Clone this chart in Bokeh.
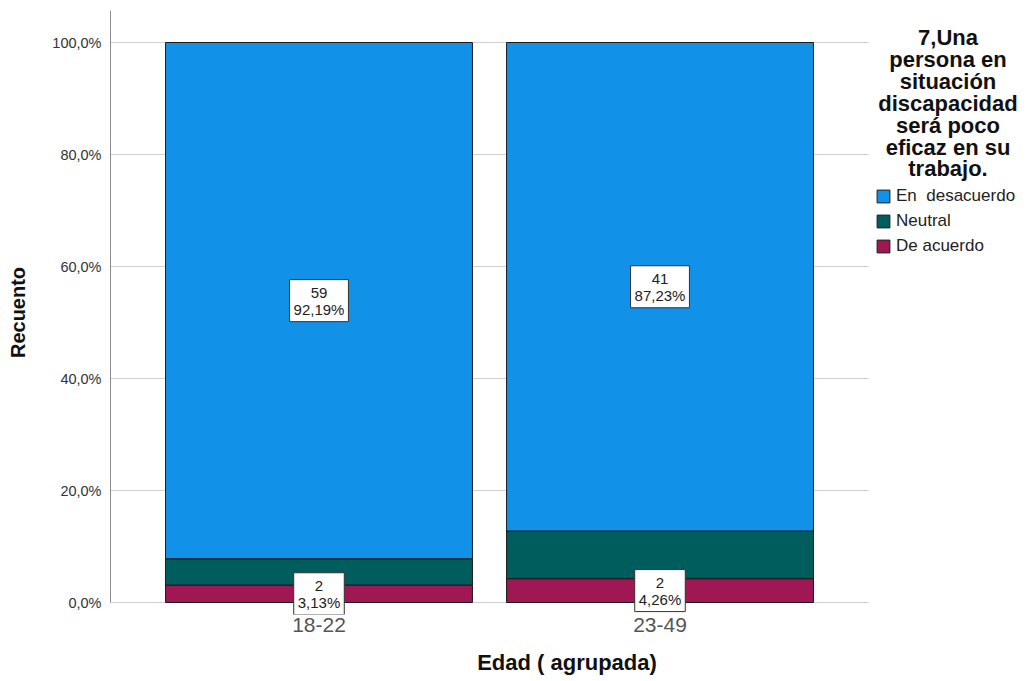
from decimal import Decimal, ROUND_HALF_UP

from bokeh.plotting import figure
from bokeh.models import Range1d, FixedTicker, Legend, LegendItem, Label, ColumnDataSource
from bokeh.core.properties import value
from bokeh.embed import file_html
from bokeh.resources import INLINE

# ---------------- data ----------------
groups = ["18-22", "23-49"]
en_desacuerdo = [59, 41]
neutral = [3, 4]
de_acuerdo = [2, 2]

series_names = ["En  desacuerdo", "Neutral", "De acuerdo"]
series_colors = ["#1192e8", "#005d5d", "#9f1853"]

y_ticks = [0, 20, 40, 60, 80, 100]
y_tick_labels = ["0,0%", "20,0%", "40,0%", "60,0%", "80,0%", "100,0%"]

legend_title_lines = ["7,Una", "persona en", "situación", "discapacidad",
                      "será poco", "eficaz en su", "trabajo."]

x_title = "Edad ( agrupada)"
y_title = "Recuento"

FONT = "Liberation Sans"

# ---------------- layout helpers (pixel <-> data) ----------------
W, H = 1024, 680
FRAME_LEFT_PX, FRAME_TOP_PX, FRAME_BOTTOM_PX = 109, 10, 614
PX_PER_X = 341.0          # pixels per category step
X1_PX = 318.5             # pixel centre of first category
PX_PER_Y = 5.6            # pixels per percent
ZERO_PX = 602.0           # pixel of 0 %


def xd(px):
    return 1 + (px - X1_PX) / PX_PER_X


def yd(py):
    return (ZERO_PX - py) / PX_PER_Y


# ---------------- derived ----------------
xpos = [i + 1 for i in range(len(groups))]
totals = [a + b + c for a, b, c in zip(en_desacuerdo, neutral, de_acuerdo)]


def pct(n, t):
    return 100.0 * n / t


def pct_str(n, t):
    d = (Decimal(n) * Decimal(100) / Decimal(t)).quantize(Decimal("0.01"), rounding=ROUND_HALF_UP)
    return str(d).replace(".", ",") + "%"


stack_bottom_up = [de_acuerdo, neutral, en_desacuerdo]
colors_bottom_up = [series_colors[2], series_colors[1], series_colors[0]]
names_bottom_up = [series_names[2], series_names[1], series_names[0]]

p = figure(width=W, height=H,
           x_range=Range1d(xd(FRAME_LEFT_PX), xd(W)),
           y_range=Range1d(yd(FRAME_BOTTOM_PX), yd(FRAME_TOP_PX)),
           output_backend="svg", toolbar_location=None,
           min_border_left=FRAME_LEFT_PX, min_border_right=0,
           min_border_top=FRAME_TOP_PX, min_border_bottom=H - FRAME_BOTTOM_PX)
p.background_fill_color = "white"
p.border_fill_color = "white"
p.outline_line_color = None

# grid lines and y-axis line, limited to the bar area
grid_x0, grid_x1 = xd(110), xd(868)
p.segment(x0=[grid_x0] * len(y_ticks), x1=[grid_x1] * len(y_ticks),
          y0=y_ticks, y1=y_ticks, line_color="#cfcfcf", line_width=1)
p.segment(x0=[grid_x0], x1=[grid_x0], y0=[0], y1=[yd(FRAME_TOP_PX)],
          line_color="#8c8c8c", line_width=1)

renderers = {}
cum = [0.0] * len(groups)
label_x, label_y, label_text = [], [], []
for vals, col, name in zip(stack_bottom_up, colors_bottom_up, names_bottom_up):
    bottoms = list(cum)
    tops = [b + pct(v, t) for b, v, t in zip(bottoms, vals, totals)]
    src = ColumnDataSource(dict(x=xpos, bottom=bottoms, top=tops))
    r = p.vbar(x="x", width=0.9, bottom="bottom", top="top", source=src,
               fill_color=col, line_color="#1a1a1a", line_width=1)
    renderers[name] = r
    if name != "Neutral":
        for xi, b, tp, v, t in zip(xpos, bottoms, tops, vals, totals):
            label_x.append(xi)
            label_y.append((b + tp) / 2)
            label_text.append(f"{v}\n{pct_str(v, t)}")
    cum = tops

lab_src = ColumnDataSource(dict(x=label_x, y=label_y, text=label_text))
p.text(x="x", y="y", text="text", source=lab_src,
       text_align="center", text_baseline="middle",
       text_font=value(FONT), text_font_size="15px", text_color="#222222",
       text_line_height=1.0,
       background_fill_color="white", border_line_color="#333333",
       border_line_width=1, padding=4)

# axes
p.yaxis.ticker = FixedTicker(ticks=y_ticks)
p.yaxis.major_label_overrides = dict(zip(y_ticks, y_tick_labels))
p.yaxis.axis_line_color = None
p.yaxis.major_tick_line_color = None
p.yaxis.minor_tick_line_color = None
p.yaxis.major_tick_out = 0
p.yaxis.major_tick_in = 0
p.yaxis.major_label_text_font = FONT
p.yaxis.major_label_text_font_size = "14.5px"
p.yaxis.major_label_text_color = "#333333"
p.yaxis.major_label_standoff = 8
p.yaxis.axis_label = y_title
p.yaxis.axis_label_text_font = FONT
p.yaxis.axis_label_text_font_size = "20px"
p.yaxis.axis_label_text_font_style = "bold"
p.yaxis.axis_label_text_color = "#111111"
p.yaxis.axis_label_standoff = 20

p.xaxis.ticker = FixedTicker(ticks=xpos)
p.xaxis.major_label_overrides = dict(zip(xpos, groups))
p.xaxis.axis_line_color = None
p.xaxis.major_tick_line_color = None
p.xaxis.minor_tick_line_color = None
p.xaxis.major_tick_out = 0
p.xaxis.major_tick_in = 0
p.xaxis.major_label_text_font = FONT
p.xaxis.major_label_text_font_size = "21px"
p.xaxis.major_label_text_color = "#555555"
p.xaxis.major_label_standoff = 3
p.xaxis.axis_label = x_title
p.xaxis.axis_label_text_font = FONT
p.xaxis.axis_label_text_font_size = "22px"
p.xaxis.axis_label_text_font_style = "bold"
p.xaxis.axis_label_text_color = "#111111"
p.xaxis.axis_label_standoff = 15

p.grid.visible = False

# legend
items = [LegendItem(label=n, renderers=[renderers[n]]) for n in series_names]
legend = Legend(items=items, location=(875 - FRAME_LEFT_PX, FRAME_BOTTOM_PX - 256),
                padding=0, margin=0,
                border_line_color=None, background_fill_alpha=0,
                glyph_width=16, glyph_height=16, label_height=16,
                spacing=5, label_standoff=5,
                label_text_font=FONT, label_text_font_size="17px",
                label_text_color="#222222")
p.add_layout(legend, "center")

# legend title (multi-line, centered)
for i, line in enumerate(legend_title_lines):
    p.add_layout(Label(x=xd(947.5), y=yd(37 + 21.9 * i), text=line,
                       text_align="center", text_baseline="middle",
                       text_font=FONT, text_font_size="22px",
                       text_font_style="bold", text_color="#111111"))

open("out.html", "w").write(file_html(p, INLINE))
